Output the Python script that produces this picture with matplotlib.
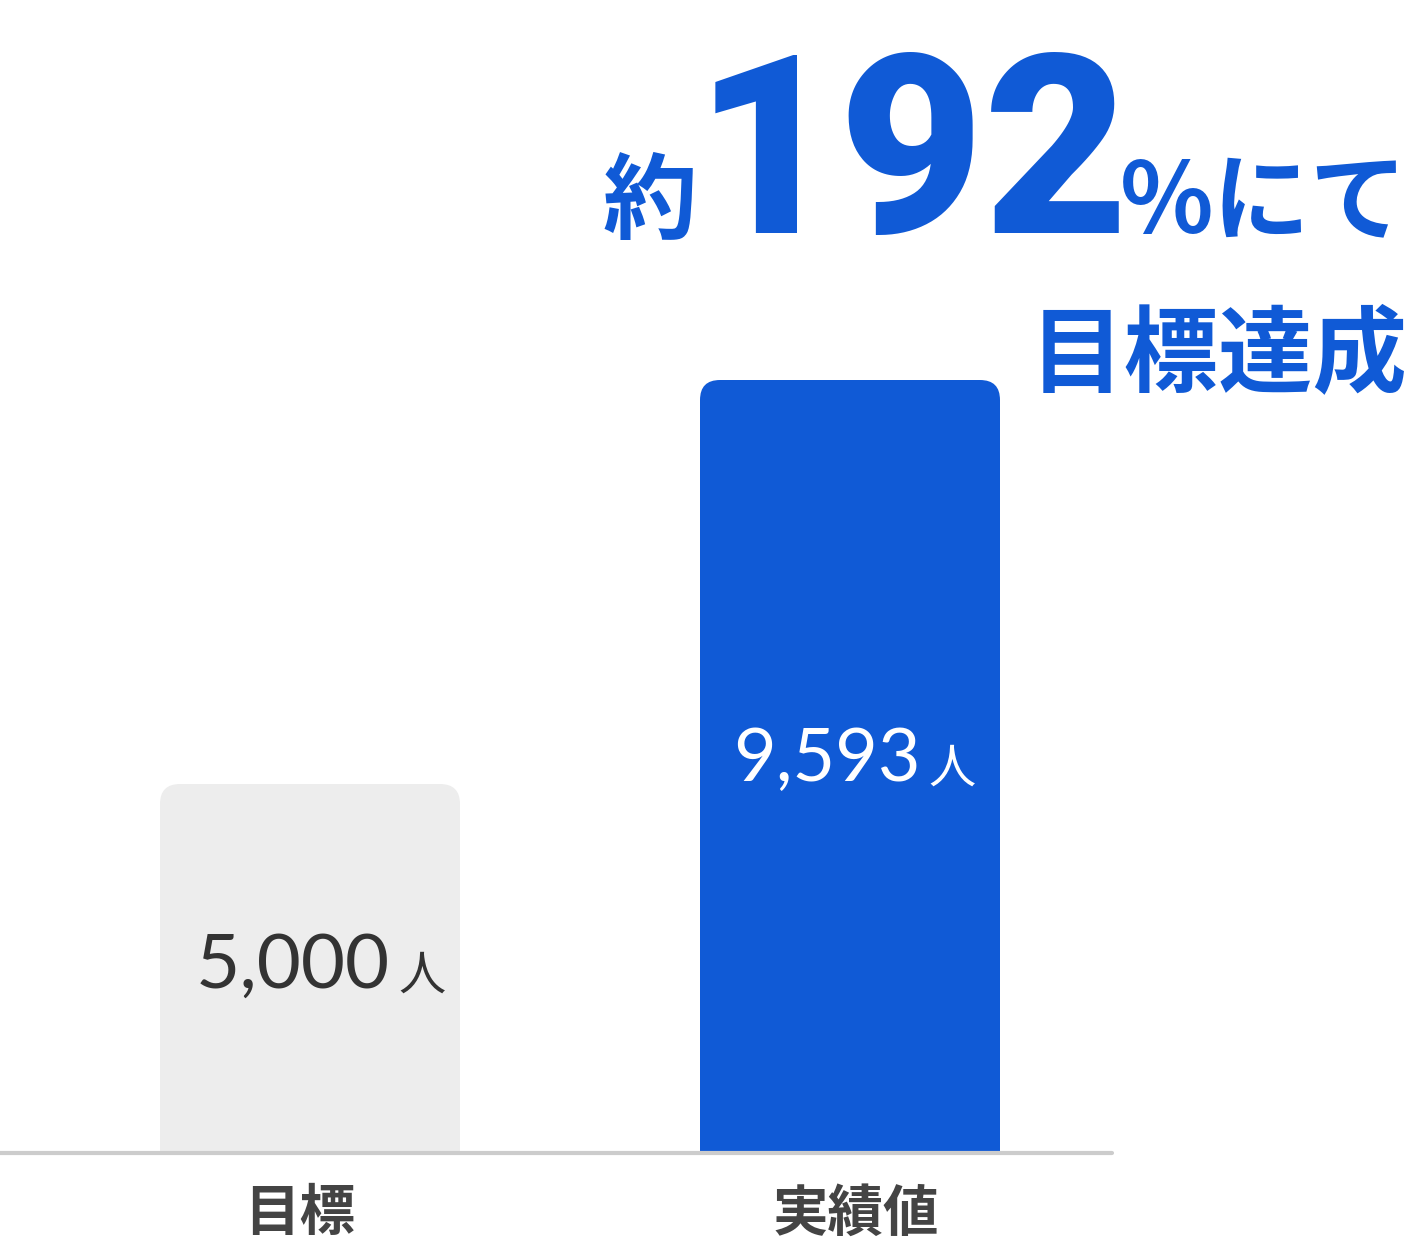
import matplotlib
matplotlib.use("Agg")
import matplotlib.pyplot as plt
from matplotlib.patches import FancyBboxPatch
import matplotlib.transforms as mtransforms

plt.rcParams['font.family'] = ['Noto Sans CJK JP', 'DejaVu Sans']

categories = ['目標', '実績値']
values = [5000, 9593]
value_labels = ['5,000', '9,593']
unit = '人'
headline_pre = '約'
headline_num = '192'
headline_post = '%にて'
headline_line2 = '目標達成'

blue = '#105ad6'
gray_bar = '#ededed'
bar_colors = [gray_bar, blue]
num_colors = ['#333333', '#ffffff']

W, H = 1408, 1260
fig = plt.figure(figsize=(W / 100, H / 100), dpi=100)

# axes placed so the baseline sits at y=1153px, bars 300px wide
base_px, top_px = 1153, 380
ax = fig.add_axes([0, (H - base_px) / H, 1112 / W, (base_px - top_px) / H])
ymin = 805
ax.set_ylim(ymin, values[1])
ax.set_xlim(-310 / 540, 1 + 262 / 540)

bw = 300 / 540
x_units_px = 1 / 540
y_units_px = (values[1] - ymin) / (base_px - top_px)
for i, (v, c) in enumerate(zip(values, bar_colors)):
    p = FancyBboxPatch((i - bw / 2, 0), bw, v,
                       boxstyle="round,pad=0,rounding_size=%f" % (20 * x_units_px),
                       mutation_aspect=y_units_px / x_units_px,
                       fc=c, ec='none', zorder=2)
    ax.add_patch(p)

ax.set_yticks([])
ax.set_xticks(range(len(categories)))
ax.set_xticklabels(categories, fontsize=40, fontweight='bold', color='#444444')
ax.tick_params(axis='x', length=0, pad=24)
# small horizontal nudges of the category labels (px)
for lab, dx in zip(ax.get_xticklabels(), [-10, 6]):
    lab.set_transform(lab.get_transform() + mtransforms.Affine2D().translate(dx, 0))
for s in ['top', 'left', 'right']:
    ax.spines[s].set_visible(False)
ax.spines['bottom'].set_color('#cccccc')
ax.spines['bottom'].set_linewidth(3)
ax.spines['bottom'].set_capstyle('round')
ax.spines['bottom'].set_zorder(3)

# value labels inside bars
label_y = [2680, 5030]
num_right = [0.148, 0.130]
label_size = [55, 53]
for i, v in enumerate(values):
    ax.text(i + num_right[i], label_y[i], value_labels[i], ha='right', va='baseline',
            fontsize=label_size[i], family='Lato', color=num_colors[i], zorder=4)
    ax.text(i + num_right[i] + 0.015, label_y[i] - 20, unit, ha='left', va='baseline',
            fontsize=34, color=num_colors[i], zorder=4)

# headline
def fx(px):
    return px / W

def fy(px):
    return (H - px) / H

fig.text(fx(697), fy(232), headline_pre, ha='right', va='baseline', fontsize=68,
         fontweight='bold', color=blue)
fig.text(fx(912), fy(233), headline_num, ha='center', va='baseline', fontsize=180,
         family='Roboto', fontweight='black', color=blue)
fig.text(fx(1120), fy(232), headline_post, ha='left', va='baseline', fontsize=70,
         fontweight='bold', color=blue)
fig.text(fx(1408), fy(385), headline_line2, ha='right', va='baseline', fontsize=68,
         fontweight='bold', color=blue)

fig.savefig('out.png', dpi=100)
